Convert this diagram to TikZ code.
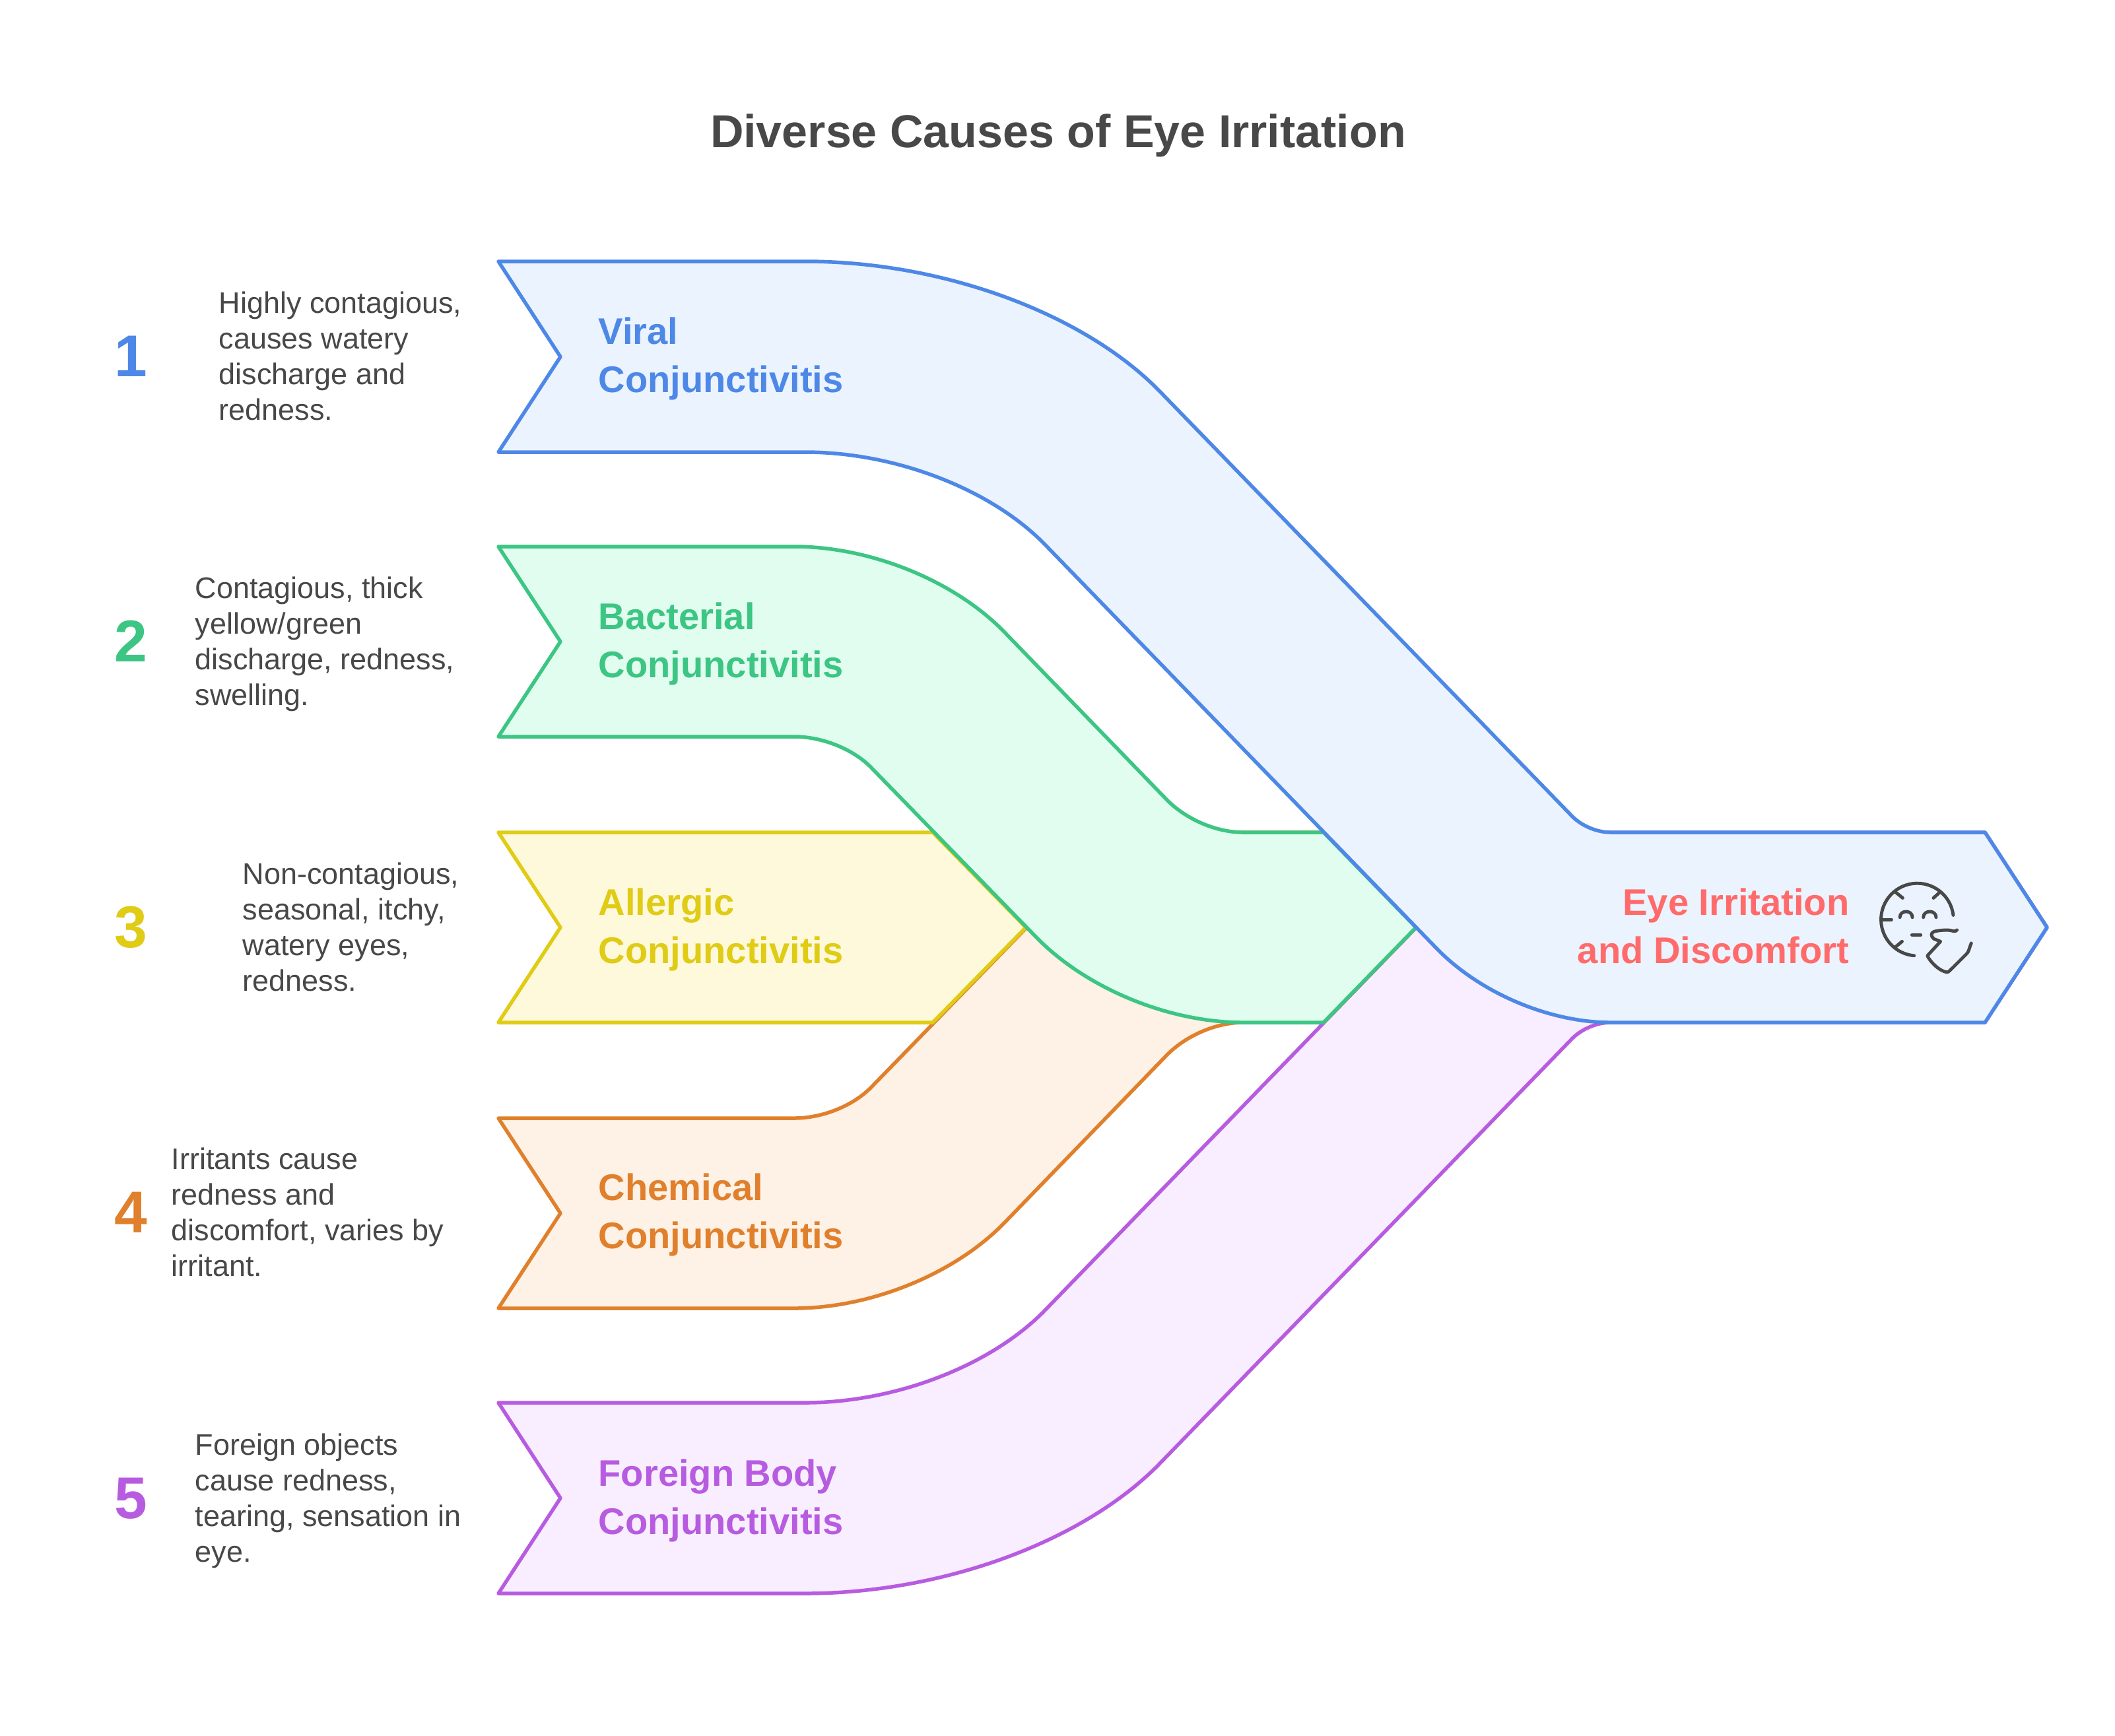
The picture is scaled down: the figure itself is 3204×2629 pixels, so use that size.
\documentclass[tikz,border=0pt]{standalone}
\usepackage{fontspec}
\setmainfont{Liberation Sans}
\definecolor{cblue}{HTML}{4E88E7}\definecolor{fblue}{HTML}{EBF3FF}
\definecolor{cgreen}{HTML}{3CC583}\definecolor{fgreen}{HTML}{E0FDEF}
\definecolor{cyellow}{HTML}{E0CB15}\definecolor{fyellow}{HTML}{FEF9DB}
\definecolor{corange}{HTML}{E0802C}\definecolor{forange}{HTML}{FEF1E5}
\definecolor{cpurple}{HTML}{B75CE0}\definecolor{fpurple}{HTML}{F9EEFF}
\definecolor{ctext}{HTML}{484848}\definecolor{cred}{HTML}{FF6B6B}
\tikzset{
 band/.style={line width=1.56pt,line join=round},
 bandblue/.style={band,draw=cblue,fill=fblue},
 bandgreen/.style={band,draw=cgreen,fill=fgreen},
 bandyellow/.style={band,draw=cyellow,fill=fyellow},
 bandorange/.style={band,draw=corange,fill=forange},
 bandpurple/.style={band,draw=cpurple,fill=fpurple},
 title/.style={inner sep=0pt,anchor=base,text=ctext,font=\fontsize{19.9pt}{24pt}\selectfont\bfseries},
 body/.style={inner sep=0pt,anchor=base west,align=left,text=ctext,font=\fontsize{12.8pt}{15.35pt}\selectfont},
 numeral/.style={inner sep=0pt,anchor=base,font=\fontsize{25.4pt}{30pt}\selectfont\bfseries},
 label/.style={inner sep=0pt,anchor=base west,align=left,font=\fontsize{15.95pt}{20.5pt}\selectfont\bfseries},
 icon/.style={draw=ctext,line width=1.4pt,line cap=round,line join=round},
 mirror/.style={shift={(0,2810)},y=0.01cm}
}
\newcommand{\outerband}{(755,396) -- (1220,396) .. controls (1428,396) and (1643,475) .. (1758,594) -- (2382,1237) .. controls (2396,1251) and (2419,1261) .. (2440,1261) -- (3007,1261) -- (3101,1405) -- (3007,1549) -- (2440,1549) .. controls (2347,1549) and (2241,1504) .. (2175.5,1436) -- (1584,826) .. controls (1502,741) and (1356,685) .. (1220,685) -- (755,685) -- (849,540.5) -- cycle}
\newcommand{\innerband}{(755,828) -- (1203,828) .. controls (1319,828) and (1446,880) .. (1521,957) -- (1767,1211) .. controls (1796,1241) and (1842.5,1261) .. (1883,1261) -- (2005,1261) -- (2145,1405) -- (2005,1549) -- (1883,1549) .. controls (1770,1549) and (1644,1497) .. (1568,1418) -- (1320.5,1163.6) .. controls (1293,1135) and (1246,1116) .. (1203,1116) -- (755,1116) -- (849,972) -- cycle}
\begin{document}
\begin{tikzpicture}[x=0.01cm,y=-0.01cm]
\useasboundingbox (0,0) rectangle (3204,2629);
\fill[white] (0,0) rectangle (3204,2629);
\begin{scope}[mirror]
\path[bandpurple] \outerband;
\path[bandorange] \innerband;
\end{scope}
\path[bandyellow] (755,1261) -- (1413,1261) -- (1554,1405) -- (1413,1549) -- (755,1549) -- (849,1405) -- cycle;
\path[bandgreen] \innerband;
\path[bandblue] \outerband;

\node[title] (ttl) at (1603,223) {Diverse Causes of Eye Irritation};

\node[numeral,text=cblue] (n1) at (198,570) {1};
\node[numeral,text=cgreen] (n2) at (198,1002) {2};
\node[numeral,text=cyellow] (n3) at (198,1435) {3};
\node[numeral,text=corange] (n4) at (198,1867) {4};
\node[numeral,text=cpurple] (n5) at (198,2300) {5};

\node[body] (d1) at (331,636) {Highly contagious,\\causes watery\\discharge and\\redness.};
\node[body] (d2) at (295,1068) {Contagious, thick\\yellow/green\\discharge, redness,\\swelling.};
\node[body] (d3) at (367,1501) {Non-contagious,\\seasonal, itchy,\\watery eyes,\\redness.};
\node[body] (d4) at (259,1933) {Irritants cause\\redness and\\discomfort, varies by\\irritant.};
\node[body] (d5) at (295,2366) {Foreign objects\\cause redness,\\tearing, sensation in\\eye.};

\node[label,text=cblue] (l1) at (906,594) {Viral\\Conjunctivitis};
\node[label,text=cgreen] (l2) at (906,1026) {Bacterial\\Conjunctivitis};
\node[label,text=cyellow] (l3) at (906,1459) {Allergic\\Conjunctivitis};
\node[label,text=corange] (l4) at (906,1891) {Chemical\\Conjunctivitis};
\node[label,text=cpurple] (l5) at (906,2324) {Foreign Body\\Conjunctivitis};
\node[label,anchor=base east,align=right,text=cred] (l6) at (2802,1459) {Eye Irritation\\and Discomfort};

\begin{scope}[shift={(2700,1200)},x=0.003333cm,y=-0.003333cm]
\draw[icon] (778,560) arc[start angle=-7,end angle=-265,radius=165];
\draw[icon] (515,455) -- (548,482);
\draw[icon] (718,455) -- (688,482);
\draw[icon] (455,580) -- (497,580);
\draw[icon] (515,705) -- (545,680);
\draw[icon] (535,570) .. controls (535,535) and (592,535) .. (592,570);
\draw[icon] (642,570) .. controls (642,535) and (700,535) .. (700,570);
\draw[icon] (590,650) -- (630,650);
\draw[icon] (795,628) .. controls (785,640) and (775,628) .. (750,628) .. controls (725,628) and (700,632) .. (690,635) .. controls (675,642) and (675,655) .. (690,668) -- (720,680) -- (660,745) .. controls (675,775) and (715,815) .. (750,820) .. controls (760,818) and (765,808) .. (775,800) -- (840,735) .. controls (850,725) and (852,705) .. (860,688);
\end{scope}
\end{tikzpicture}
\end{document}
